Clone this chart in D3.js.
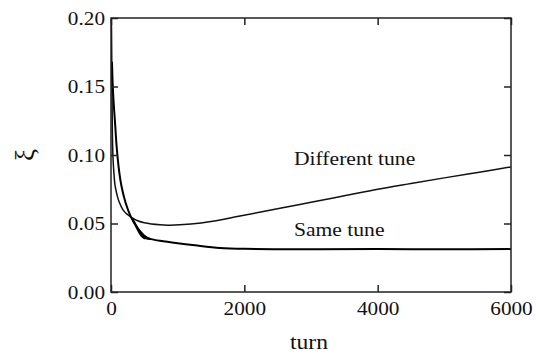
<!DOCTYPE html>
<html>
<head>
<meta charset="utf-8">
<script src="https://cdn.jsdelivr.net/npm/d3@7"></script>
<style>
  html, body { margin: 0; padding: 0; background: #fff; }
  svg { display: block; }
</style>
</head>
<body>
<svg id="chart" width="537" height="355"></svg>
<script>
// ---- data ----
const xTicks = [0, 2000, 4000, 6000];
const yTicks = [0.00, 0.05, 0.10, 0.15, 0.20];

const diffTurn = [0, 8, 14, 20, 30, 45, 60, 90, 120, 180, 240, 300, 400, 500, 735, 885, 1200, 1500, 1935, 2535, 3000, 3500, 4000, 4500, 5000, 5500, 6000];
const diffXi   = [0.215, 0.19, 0.15, 0.118, 0.098, 0.086, 0.078, 0.071, 0.066, 0.060, 0.0568, 0.0547, 0.052, 0.0505, 0.0490, 0.0488, 0.0497, 0.0515, 0.0555, 0.0611, 0.0655, 0.0702, 0.0750, 0.0792, 0.0833, 0.0873, 0.0913];

const sameTurn = [15, 25, 40, 60, 85, 120, 160, 220, 300, 400, 480, 530, 600, 735, 1000, 1260, 1635, 2000, 3000, 4000, 5000, 6000];
const sameXi   = [0.168, 0.152, 0.138, 0.124, 0.106, 0.089, 0.0766, 0.065, 0.0547, 0.0462, 0.0412, 0.0396, 0.0386, 0.0374, 0.0356, 0.0341, 0.0322, 0.0315, 0.0312, 0.0313, 0.0312, 0.0313];

// jitter band of the "same tune" run around its first minimum
const bandTurn = [330, 400, 450, 500, 540, 580];
const bandLow  = [0.0525, 0.0450, 0.0410, 0.0390, 0.0388, 0.0385];
const bandHigh = [0.0535, 0.0472, 0.0440, 0.0415, 0.0400, 0.0390];

const labels = [
  {text: "Different tune", turn: 2760, xi: 0.0925},
  {text: "Same tune", turn: 2760, xi: 0.0410}
];

// ---- layout ----
const FONT = '"Liberation Serif", "Times New Roman", serif';
const L = 111, R = 511, T = 18, B = 292;
const SX = 1.18; // horizontal stretch of the reference typeface
const svg = d3.select("#chart");

const x = d3.scaleLinear().domain([0, 6000]).range([L, R]);
const y = d3.scaleLinear().domain([0, 0.20]).range([B, T]);

const defs = svg.append("defs");
defs.append("clipPath").attr("id", "clip")
  .append("rect").attr("x", L).attr("y", T).attr("width", R - L).attr("height", B - T);

const plot = svg.append("g").attr("clip-path", "url(#clip)");

const line = d3.line().curve(d3.curveCatmullRom.alpha(0.5));

plot.append("path")
  .attr("d", line(diffTurn.map((t, i) => [x(t), y(diffXi[i])])))
  .attr("fill", "none").attr("stroke", "#111").attr("stroke-width", 1.5);

plot.append("path")
  .attr("d", line(sameTurn.map((t, i) => [x(t), y(sameXi[i])])))
  .attr("fill", "none").attr("stroke", "#000").attr("stroke-width", 2);

const area = d3.area().curve(d3.curveMonotoneX)
  .x((d) => x(d[0])).y0((d) => y(d[1])).y1((d) => y(d[2]));
plot.append("path")
  .attr("d", area(bandTurn.map((t, i) => [t, bandLow[i], bandHigh[i]])))
  .attr("fill", "#000").attr("stroke", "#000").attr("stroke-width", 1.2);

// ---- axes (ticks inward on all four sides) ----
function styleAxis(g) {
  g.attr("font-family", null).attr("font-size", null);
  g.select(".domain").remove();
  g.selectAll(".tick line").attr("stroke", "#222").attr("stroke-width", 1.5);
}
function styleText(sel, size) {
  sel.style("font-family", FONT).style("font-size", size + "px").style("fill", "#111");
}

const gl = svg.append("g").attr("transform", `translate(${L},0)`)
  .call(d3.axisLeft(y).tickValues(yTicks).tickFormat(d3.format(".2f")).tickSizeInner(-7).tickSizeOuter(0).tickPadding(6));
styleAxis(gl);
gl.selectAll("text").attr("x", null).attr("dy", "0.34em")
  .attr("transform", `translate(-6,0) scale(${SX},1)`).call(styleText, 18);

const gr = svg.append("g").attr("transform", `translate(${R},0)`)
  .call(d3.axisRight(y).tickValues(yTicks).tickFormat("").tickSizeInner(-7).tickSizeOuter(0));
styleAxis(gr);

const gb = svg.append("g").attr("transform", `translate(0,${B})`)
  .call(d3.axisBottom(x).tickValues(xTicks).tickFormat(d3.format("d")).tickSizeInner(-7).tickSizeOuter(0).tickPadding(10));
styleAxis(gb);
gb.selectAll("text").attr("y", null).attr("dy", "0.71em")
  .attr("transform", `translate(0,10) scale(${SX},1)`).call(styleText, 18);

const gt = svg.append("g").attr("transform", `translate(0,${T})`)
  .call(d3.axisTop(x).tickValues(xTicks).tickFormat("").tickSizeInner(-7).tickSizeOuter(0));
styleAxis(gt);

// frame
svg.append("rect").attr("x", L).attr("y", T).attr("width", R - L).attr("height", B - T)
  .attr("fill", "none").attr("stroke", "#222").attr("stroke-width", 1.5);

// ---- titles ----
svg.append("text")
  .attr("transform", `translate(${(L + R) / 2 - 2},349) scale(${SX},1)`)
  .attr("text-anchor", "middle").call(styleText, 20).text("turn");

svg.append("text")
  .attr("transform", `translate(34,155) rotate(-90)`)
  .attr("text-anchor", "middle").call(styleText, 27).text("ξ");

// ---- curve labels ----
labels.forEach((d) => {
  svg.append("text")
    .attr("transform", `translate(${x(d.turn) - 1},${y(d.xi)}) scale(${SX},1)`)
    .call(styleText, 18.3).text(d.text);
});
</script>
</body>
</html>
